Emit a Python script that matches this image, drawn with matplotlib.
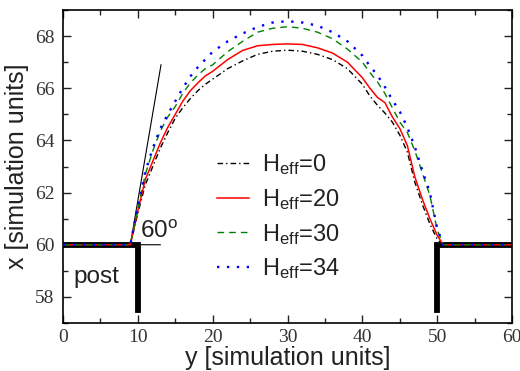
import matplotlib
matplotlib.use("Agg")
import matplotlib.pyplot as plt
from matplotlib.ticker import MultipleLocator

plt.rcParams['font.family'] = ['Liberation Sans', 'DejaVu Sans']
plt.rcParams['mathtext.default'] = 'regular'

# ---- data ----
y_pos = [0, 9, 10, 11, 12, 13, 14, 15, 16, 17, 18, 19, 20, 22, 24, 26, 28, 30,
         32, 34, 36, 38, 40, 41, 42, 43, 44, 45, 46, 47, 48, 49, 50, 50.8, 60]
x_h0 = [60, 60, 61.2, 62.3, 63.0, 63.7, 64.3, 64.85, 65.25, 65.6, 65.9, 66.15, 66.35,
        66.75, 67.05, 67.3, 67.42, 67.46, 67.42, 67.3, 67.1, 66.75, 66.15, 65.7, 65.35,
        65.05, 64.7, 64.2, 63.55, 62.4, 61.55, 60.8, 60.2, 60, 60]
x_h20 = [60, 60, 61.3, 62.5, 63.2, 63.9, 64.5, 65.0, 65.5, 65.9, 66.2, 66.47, 66.65,
         67.1, 67.45, 67.63, 67.68, 67.7, 67.68, 67.55, 67.35, 67.0, 66.4, 66.0, 65.65,
         65.45, 64.9, 64.45, 63.8, 62.6, 61.75, 61.0, 60.35, 60, 60]
x_h30 = [60, 60, 61.4, 62.7, 63.6, 64.35, 64.9, 65.3, 65.8, 66.2, 66.5, 66.75, 66.9,
         67.4, 67.8, 68.15, 68.3, 68.36, 68.3, 68.15, 67.9, 67.5, 67.0, 66.6, 66.25,
         65.8, 65.25, 64.7, 64.3, 63.6, 62.75, 61.9, 60.55, 60, 60]
x_h34 = [60, 60, 61.45, 62.8, 63.7, 64.45, 65.0, 65.5, 66.0, 66.45, 66.8, 67.1, 67.4,
         67.8, 68.1, 68.35, 68.52, 68.57, 68.52, 68.4, 68.15, 67.8, 67.25, 66.85, 66.5,
         66.05, 65.55, 65.1, 64.5, 63.75, 62.85, 62.0, 60.6, 60, 60]
labels = ["H$_{eff}$=0", "H$_{eff}$=20", "H$_{eff}$=30", "H$_{eff}$=34"]

post_left_y = [0, 10, 10]
post_left_x = [60, 60, 57.5]
post_right_y = [50, 50, 60]
post_right_x = [57.5, 60, 60]
angle_y = [13.1, 9, 13]
angle_x = [66.9, 60, 60]

fig = plt.figure(figsize=(5.2, 3.71), dpi=100)
ax = fig.add_axes([0.121, 0.1294, 0.864, 0.8436])

ax.plot(post_left_y, post_left_x, color='black', lw=4.2, solid_joinstyle='miter', zorder=1)
ax.plot(post_right_y, post_right_x, color='black', lw=4.2, solid_joinstyle='miter', zorder=1)
ax.plot(angle_y, angle_x, color='black', lw=0.8, zorder=1)

l0, = ax.plot(y_pos, x_h0, color='black', lw=1.0, dashes=(4, 2.2, 1, 2.2), zorder=3)
l1, = ax.plot(y_pos, x_h20, color='red', lw=1.1, zorder=3)
l2, = ax.plot(y_pos, x_h30, color='green', lw=1.0, dashes=(4.8, 3.6), zorder=3)
l3, = ax.plot(y_pos, x_h34, color='blue', lw=1.7, dashes=(1, 3.2), zorder=3)

leg = ax.legend([l0, l1, l2, l3], labels, loc='upper left', bbox_to_anchor=(0.322, 0.575),
                frameon=False, fontsize=17, handlelength=1.35, handletextpad=0.55,
                labelspacing=0.41, borderaxespad=0)
for t in leg.get_texts():
    t.set_color('#222222')

ax.text(10.3, 60.26, "60$^{o}$", fontsize=17.5, color='#222222')
ax.text(1.35, 58.53, "post", fontsize=17.5, color='#222222')

ax.set_xlim(0, 60)
ax.set_ylim(57, 69)
ax.xaxis.set_major_locator(MultipleLocator(10))
ax.xaxis.set_minor_locator(MultipleLocator(5))
ax.yaxis.set_major_locator(MultipleLocator(2))
ax.yaxis.set_minor_locator(MultipleLocator(1))
ax.tick_params(which='both', direction='in', top=True, right=True, width=1.0, color='#222222')
ax.tick_params(which='major', length=5.5)
ax.tick_params(which='minor', length=3.5)
ax.tick_params(axis='x', which='major', pad=4)
ax.tick_params(axis='y', which='major', pad=6)
for lab in ax.get_xticklabels() + ax.get_yticklabels():
    lab.set_fontfamily('Liberation Serif')
    lab.set_fontsize(14)
    lab.set_color('#333333')
for s in ax.spines.values():
    s.set_linewidth(1.2)

ax.set_xlabel("y [simulation units]", fontsize=18, color='#222222', labelpad=0)
ax.set_ylabel("x [simulation units]", fontsize=18, color='#222222', labelpad=4)

fig.savefig("out.png", dpi=100)
